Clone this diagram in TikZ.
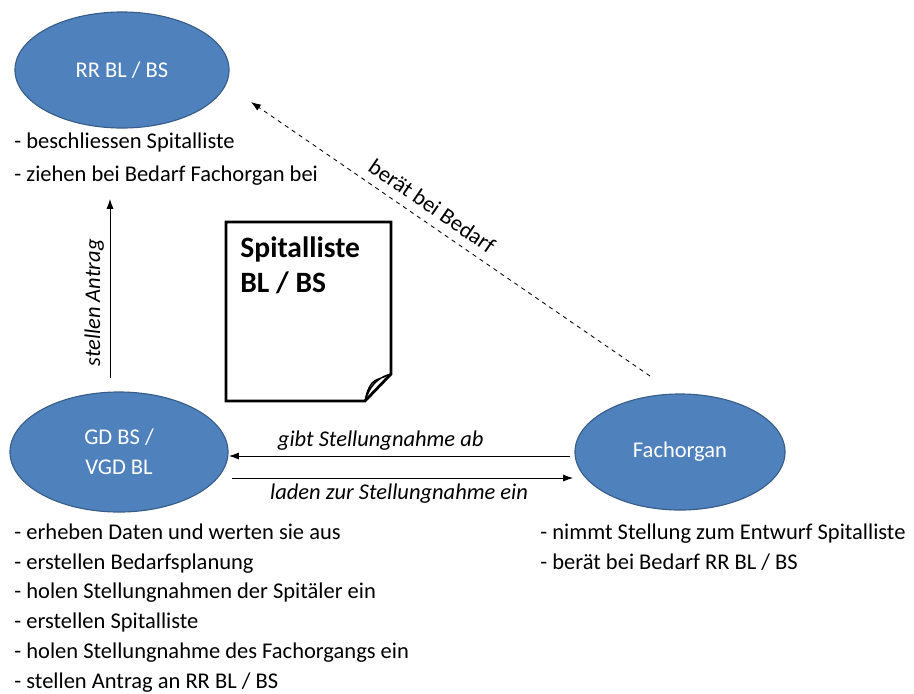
\documentclass[tikz,border=0pt]{standalone}
\usepackage{fontspec}
\setmainfont{Carlito}
\usetikzlibrary{arrows.meta,positioning,shapes.geometric,calc}
\definecolor{ovalblue}{HTML}{4F81BD}
\definecolor{ovaledge}{HTML}{385D8A}
\definecolor{foldgray}{HTML}{BFBFBF}

\begin{document}
\begin{tikzpicture}[
  x=0.025cm, y=-0.025cm,
  font=\fontsize{16}{21.3}\selectfont,
  oval/.style={ellipse, draw=ovaledge, thick, fill=ovalblue, text=white, align=center, inner sep=0pt},
  duties/.style={anchor=north west, align=left, inner sep=0pt},
  lbl/.style={font=\fontsize{16}{18}\selectfont\itshape, inner sep=4pt},
  >={Latex[length=7pt,width=5pt]}, semithick
]
\useasboundingbox (0,0) rectangle (914,693);

% ---- actors ----
\node[oval, minimum width=5.35cm, minimum height=2.9cm] (rr) at (122,70) {RR BL / BS};
\node[oval, minimum width=5.45cm, minimum height=3.0cm] (gd) at (119,452) {GD BS /\\ VGD BL};
\node[oval, minimum width=5.25cm, minimum height=2.9cm] (fach) at (680,452) {Fachorgan};

% ---- duties ----
\node[duties, font=\fontsize{16}{23.5}\selectfont] (rrtxt) at (14,132) {- beschliessen Spitalliste\\- ziehen bei Bedarf Fachorgan bei};
\node[duties] (gdtxt) at (14,523) {- erheben Daten und werten sie aus\\- erstellen Bedarfsplanung\\- holen Stellungnahmen der Spitäler ein\\- erstellen Spitalliste\\- holen Stellungnahme des Fachorgangs ein\\- stellen Antrag an RR BL / BS};
\node[duties] (fachtxt) at (540,523) {- nimmt Stellung zum Entwurf Spitalliste\\- berät bei Bedarf RR BL / BS};

% ---- document ----
\draw[line width=2pt, fill=white] (226,222) -- (391,222) -- (391,374) -- (365,401) -- (226,401) -- cycle;
\filldraw[line width=1pt, fill=foldgray] (365,401) .. controls (367,390) and (371,382) .. (376,380) -- (391,374) .. controls (383,376) and (371,381) .. (365,401);
\node[anchor=north west, align=left, inner sep=0pt, font=\fontsize{21}{25}\selectfont\bfseries] (doc) at (240,236) {Spitalliste\\BL / BS};

% ---- connectors ----
\coordinate (antragS) at (110,378);
\coordinate (antragE) at (110,199);
\draw[->] (antragS) -- node[lbl, above, sloped, pos=0.42] {stellen Antrag} (antragE);

\coordinate (beratS) at (650,376);
\coordinate (beratE) at (251,102);
\draw[->, dashed] (beratS) -- node[lbl, font=\fontsize{16}{18}\selectfont, above, sloped, pos=0.57, inner sep=6pt] {berät bei Bedarf} (beratE);

\coordinate (gibtS) at (570,456);
\coordinate (gibtE) at (229,456);
\draw[->] (gibtS) -- node[lbl, above, pos=0.555] {gibt Stellungnahme ab} (gibtE);

\coordinate (ladenS) at (232,478);
\coordinate (ladenE) at (573,478);
\draw[->] (ladenS) -- node[lbl, below, pos=0.49] {laden zur Stellungnahme ein} (ladenE);

\end{tikzpicture}
\end{document}
